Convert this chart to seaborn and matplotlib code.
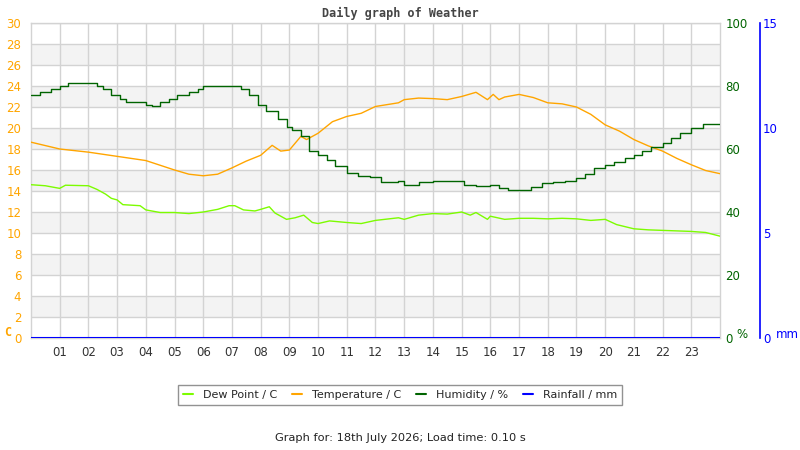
import numpy as np
import pandas as pd
import seaborn as sns
import matplotlib.pyplot as plt
from matplotlib.lines import Line2D

# hours of the day and readings
temp_hours = [0, 1, 2, 3, 4, 5, 5.5, 6, 6.5, 7, 7.5, 8, 8.4, 8.7, 9, 9.4, 9.6, 10, 10.5, 11,
              11.5, 12, 12.8, 13, 13.5, 14, 14.5, 15, 15.5, 15.9, 16.1, 16.3, 16.5, 17, 17.5,
              18, 18.5, 19, 19.5, 20, 20.5, 21, 21.5, 22, 22.5, 23, 23.5, 24]
temp_vals = [18.65, 18.0, 17.7, 17.3, 16.9, 16.0, 15.6, 15.45, 15.6, 16.2, 16.85, 17.4, 18.35,
             17.8, 17.9, 19.2, 18.9, 19.5, 20.6, 21.1, 21.4, 22.05, 22.4, 22.7, 22.85, 22.8,
             22.7, 23.0, 23.4, 22.7, 23.2, 22.7, 22.95, 23.2, 22.9, 22.4, 22.3, 22.0, 21.3,
             20.3, 19.7, 18.9, 18.3, 17.8, 17.1, 16.5, 15.95, 15.65]

dew_hours = [0, 0.5, 1, 1.2, 2, 2.3, 2.6, 2.8, 3, 3.2, 3.8, 4, 4.5, 5, 5.5, 6, 6.5, 6.9, 7.1,
             7.4, 7.8, 8, 8.3, 8.5, 8.9, 9.2, 9.5, 9.8, 10, 10.4, 10.8, 11, 11.5, 12, 12.8,
             13, 13.5, 14, 14.5, 15, 15.3, 15.5, 15.9, 16, 16.5, 17, 17.5, 18, 18.5, 19, 19.5,
             20, 20.4, 21, 21.5, 22, 22.5, 23, 23.5, 24]
dew_vals = [14.6, 14.5, 14.25, 14.55, 14.5, 14.15, 13.7, 13.3, 13.15, 12.7, 12.6, 12.2, 11.95,
            11.95, 11.85, 12.0, 12.25, 12.6, 12.6, 12.2, 12.1, 12.25, 12.5, 11.9, 11.3, 11.45,
            11.7, 11.0, 10.9, 11.15, 11.05, 11.0, 10.9, 11.2, 11.45, 11.3, 11.7, 11.85, 11.8,
            12.0, 11.7, 11.95, 11.3, 11.6, 11.3, 11.4, 11.4, 11.35, 11.4, 11.35, 11.2, 11.3,
            10.8, 10.4, 10.3, 10.25, 10.2, 10.15, 10.05, 9.7]

hum_hours = [0, 0.3, 0.7, 1, 1.3, 2, 2.3, 2.5, 2.8, 3.1, 3.3, 4, 4.2, 4.5, 4.8, 5.1, 5.5, 5.8,
             6, 7, 7.3, 7.6, 7.9, 8.2, 8.6, 8.9, 9.1, 9.4, 9.7, 10, 10.3, 10.6, 11, 11.4, 11.8,
             12.2, 12.8, 13, 13.5, 14, 15, 15.1, 15.5, 16, 16.3, 16.6, 17, 17.4, 17.8, 18.2,
             18.6, 19, 19.3, 19.6, 20, 20.3, 20.7, 21, 21.3, 21.6, 22, 22.3, 22.6, 23, 23.4, 24]
hum_vals = [77, 78, 79, 80, 81, 81, 80, 79, 77, 76, 75, 74, 73.5, 75, 76, 77, 78, 79, 80, 80,
            79, 77, 74, 72, 69.5, 67, 66, 64, 59.5, 58, 56.5, 54.5, 52.5, 51.5, 51, 49.5, 50,
            48.7, 49.4, 50, 50, 48.7, 48.1, 48.7, 47.6, 47.1, 47.1, 48, 49.2, 49.4, 50, 50.8,
            52, 54, 55, 56, 57, 58, 59.3, 60.6, 62, 63.5, 65, 66.7, 68, 68]

rain_hours = [0, 24]
rain_vals = [0, 0]

hour_labels = [f'{h:02d}' for h in range(1, 24)]

ORANGE = '#ffa500'
DEW = '#7cfc00'
HUM = '#006400'
RAIN = '#0000ff'

sns.set_style('white')
plt.rcParams['font.family'] = ['DejaVu Sans']

fig = plt.figure(figsize=(8, 4.5), dpi=100)
ax = fig.add_axes([31 / 800, 1 - 338 / 450, 689 / 800, 315 / 450])

# alternating bands
for lo in range(2, 30, 4):
    ax.axhspan(lo, lo + 2, color='#f3f3f3', zorder=0, lw=0)

temp_df = pd.DataFrame({'hour': temp_hours, 'value': temp_vals})
dew_df = pd.DataFrame({'hour': dew_hours, 'value': dew_vals})
hum_df = pd.DataFrame({'hour': hum_hours, 'value': hum_vals})
rain_df = pd.DataFrame({'hour': rain_hours, 'value': rain_vals})

sns.lineplot(data=dew_df, x='hour', y='value', ax=ax, color=DEW, lw=1.0, zorder=3)
sns.lineplot(data=temp_df, x='hour', y='value', ax=ax, color=ORANGE, lw=1.0, zorder=3)

ax.set_xlim(0, 24)
ax.set_ylim(0, 30)
ax.set_yticks(range(0, 31, 2))
ax.set_xticks(range(1, 24))
ax.set_xticklabels(hour_labels)
ax.grid(True, color='#d3d3d3', lw=1.0, zorder=1)
ax.set_axisbelow(True)
ax.tick_params(axis='x', length=0, labelsize=8.5, labelcolor='#333333', pad=6)
ax.tick_params(axis='y', length=0, labelsize=8.5, labelcolor=ORANGE, pad=7)
ax.set_xlabel('')
ax.set_ylabel('')
for s in ax.spines.values():
    s.set_color('#d3d3d3')
    s.set_linewidth(1.0)

ax2 = ax.twinx()
sns.lineplot(data=hum_df, x='hour', y='value', ax=ax2, color=HUM, lw=1.0,
             drawstyle='steps-post', zorder=3)
ax2.set_ylim(0, 100)
ax2.set_yticks(range(0, 101, 20))
ax2.tick_params(axis='y', length=0, labelsize=8.5, labelcolor=HUM, pad=4)
ax2.set_ylabel('')
for s in ax2.spines.values():
    s.set_visible(False)

ax3 = ax.twinx()
sns.lineplot(data=rain_df, x='hour', y='value', ax=ax3, color=RAIN, lw=1.5, zorder=4)
ax3.set_ylim(0, 15)
ax3.set_yticks([0, 5, 10, 15])
ax3.spines['right'].set_position(('axes', (760 - 31) / 689))
for k in ['top', 'left', 'bottom']:
    ax3.spines[k].set_visible(False)
ax3.spines['right'].set_color(RAIN)
ax3.spines['right'].set_linewidth(1.2)
ax3.tick_params(axis='y', length=0, labelsize=8.5, labelcolor=RAIN, pad=2)
ax3.set_ylabel('')
ax.set_xlim(0, 24)

fig.text(400 / 800, 1 - 13 / 450, 'Daily graph of Weather', ha='center', va='center',
         fontsize=8.5, fontweight='bold', color='#444444', family='DejaVu Sans Mono')
fig.text(4 / 800, 1 - 333 / 450, 'C', ha='left', va='center', fontsize=8.5,
         fontweight='bold', color=ORANGE, family='DejaVu Sans Mono')
fig.text(736 / 800, 1 - 334 / 450, '%', ha='left', va='center', fontsize=8.5, color=HUM)
fig.text(776 / 800, 1 - 335 / 450, 'mm', ha='left', va='center', fontsize=8.5, color=RAIN)

handles = [Line2D([], [], color=DEW, lw=1.5), Line2D([], [], color=ORANGE, lw=1.5),
           Line2D([], [], color=HUM, lw=1.5), Line2D([], [], color=RAIN, lw=1.5)]
labels = ['Dew Point / C', 'Temperature / C', 'Humidity / %', 'Rainfall / mm']
leg = fig.legend(handles, labels, loc='center', bbox_to_anchor=(0.5, 1 - 395 / 450), ncol=4,
                 fontsize=8, frameon=True, fancybox=False, handlelength=0.9,
                 columnspacing=1.35, handletextpad=0.9, borderpad=0.45)
leg.get_frame().set_edgecolor('#777777')
leg.get_frame().set_linewidth(1.0)

fig.text(0.5, 1 - 438 / 450, 'Graph for: 18th July 2026; Load time: 0.10 s', ha='center',
         va='center', fontsize=8.2, color='#222222')

fig.savefig('out.png', dpi=100)
